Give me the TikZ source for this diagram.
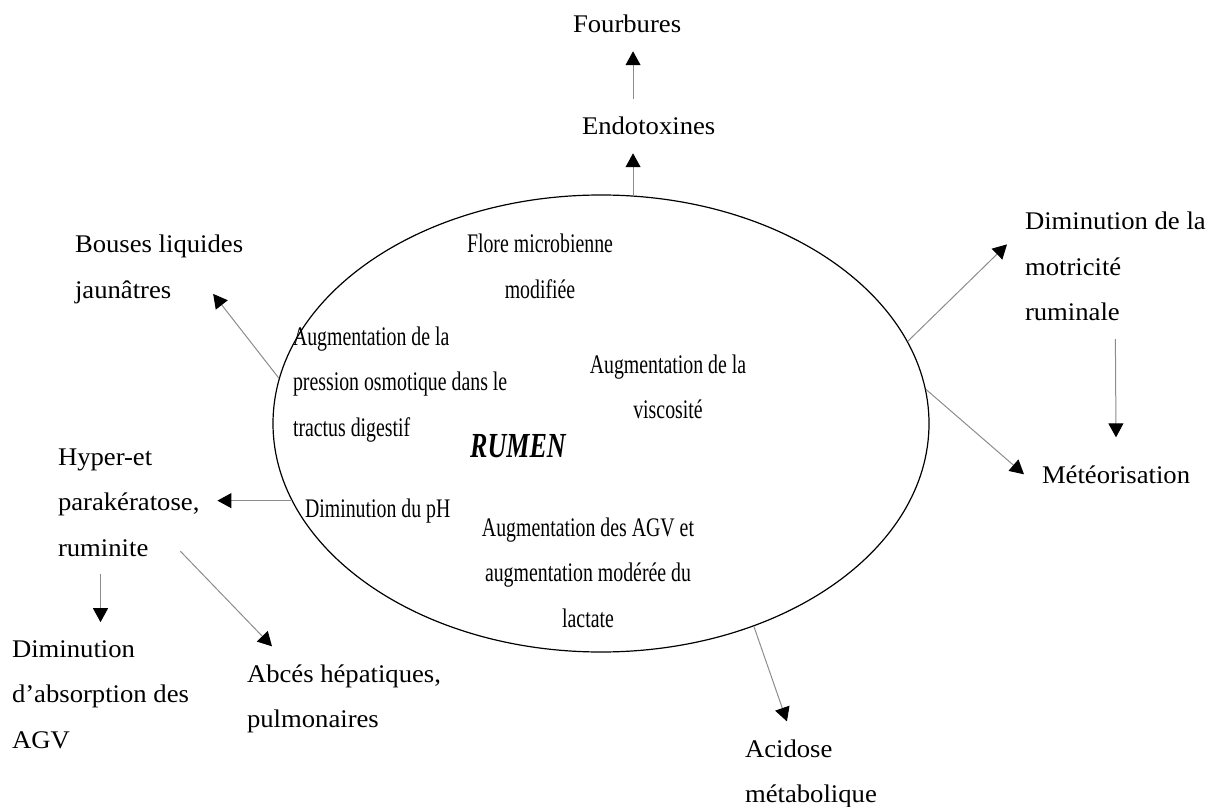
\documentclass[tikz,border=0pt]{standalone}
\usepackage{fontspec}
\setmainfont{Liberation Serif}[FakeStretch=1.05]
\newfontfamily\narrowserif{Liberation Serif}[FakeStretch=0.74]
\usetikzlibrary{shapes.geometric, arrows.meta}

\begin{document}
\begin{tikzpicture}[x=0.5pt, y=-0.5pt]

\tikzset{effect/.style = {inner sep=9pt, outer sep=0pt, anchor=text, align=left,
  font=\fontsize{12.7pt}{22.75pt}\selectfont}}
\tikzset{inside/.style = {inner sep=0pt, font=\narrowserif\fontsize{13.4pt}{22.75pt}\selectfont}}
\tikzset{link/.style = {draw=black!45, line width=0.5pt,
  -{Triangle[length=7pt, width=7.5pt, color=black]}}}
\useasboundingbox (0,0) rectangle (1214,807);

%rumen (nodes placed at the baseline of their last line)
\node[draw, ellipse, line width=0.6pt, inner sep=0pt,
  minimum width=328pt, minimum height=228.5pt] (rumen) at (601,423.5) {};
\node[inside, anchor=base, align=center] (flore) at (540,298.5) {Flore microbienne\\modifiée};
\node[inside, anchor=text, align=left] (osmo) at (293,436) {Augmentation de la\\pression osmotique dans le\\tractus digestif};
\node[inside, anchor=base, align=center] (visco) at (668,418.5) {Augmentation de la\\viscosité};
\node[inside, anchor=base, font=\narrowserif\fontsize{17.6pt}{20pt}\selectfont\bfseries\itshape] (rumenlbl) at (518,457) {RUMEN};
\node[inside, anchor=text] (ph) at (305,517) {Diminution du pH};
\node[inside, anchor=base, align=center] (agv) at (588,627) {Augmentation des AGV et\\augmentation modérée du\\lactate};

%effects
\node[effect] (fourb) at (573,33) {Fourbures};
\node[effect] (endo) at (582,135) {Endotoxines};
\node[effect] (bouses) at (75,298.5) {Bouses liquides\\jaunâtres};
\node[effect] (motri) at (1025,321) {Diminution de la\\motricité\\ruminale};
\node[effect] (meteo) at (1042,483) {Météorisation};
\node[effect] (hyper) at (58,556) {Hyper-et\\parakératose,\\ruminite};
\node[effect] (dimabs) at (12,748) {Diminution\\d’absorption des\\AGV};
\node[effect] (abces) at (247,727.5) {Abcés hépatiques,\\pulmonaires};
\node[effect] (acid) at (745,802.5) {Acidose\\métabolique};

%arrows
\draw[link] (rumen.82) -- (rumen.82 |- endo.south);
\draw[link] (rumen.82 |- endo.north) -- (rumen.82 |- fourb.south);
\draw[link] (rumen.172) -- ([xshift=-24pt, yshift=14pt]bouses.south east);
\draw[link] (rumen.15) -- ([yshift=-25pt]motri.north west);
\draw[link, shorten >=5pt] (motri.south) -- (meteo.north);
\draw[link] (rumen.6) -- (meteo.west);
\draw[link] (rumen.194) -- (rumen.194 -| hyper.east);
\draw[link] (dimabs.north |- hyper.south) -- (dimabs.north);
\draw[link] ([xshift=-18.5pt, yshift=11.5pt]hyper.south east) -- ([xshift=21.5pt]abces.north west);
\draw[link] (rumen.307) -- ([xshift=-12pt]acid.north);

\end{tikzpicture}
\end{document}
